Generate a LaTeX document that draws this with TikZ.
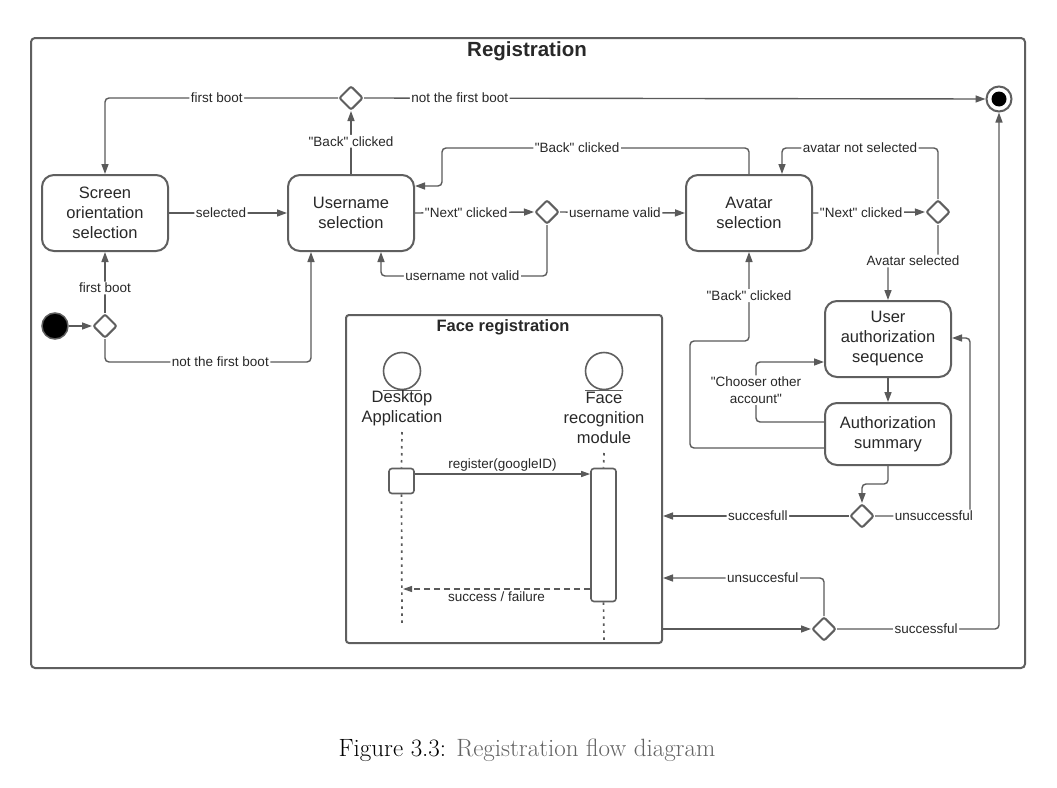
\documentclass[tikz,border=0pt]{standalone}
\usepackage{fontspec}
\newfontfamily\arialf{Liberation Sans}
\usetikzlibrary{arrows.meta,shapes.geometric}
\definecolor{ln}{RGB}{90,90,90}
\definecolor{bd}{RGB}{95,95,95}
\definecolor{tx}{RGB}{40,40,40}
\definecolor{capgray}{RGB}{100,100,100}
\begin{document}
\begin{tikzpicture}[x=1pt,y=-1pt,
 state/.style={draw=bd, line width=2pt, rounded corners=12pt, minimum width=126pt, minimum height=76pt, align=center, text=tx, font=\arialf\fontsize{16.5}{20}\selectfont, inner sep=2pt},
 dec/.style={diamond, draw=bd, line width=2pt, minimum width=24pt, minimum height=24pt, inner sep=0pt, rounded corners=2pt, fill=white},
 conn/.style={draw=ln, line width=1.4pt, rounded corners=4pt, -{Triangle[length=10pt,width=7pt]}},
 lbl/.style={fill=white, inner sep=1.5pt, text=tx, font=\arialf\fontsize{13.5}{16.5}\selectfont, align=center},
 msg/.style={draw=ln, line width=1.1pt, -{Triangle[length=9pt,width=6pt]}},
 life/.style={draw=ln, line width=1.7pt, dash pattern=on 2.5pt off 4.5pt},
 ent/.style={circle, draw=bd, line width=1.6pt, minimum size=37pt, inner sep=0pt},
 acttxt/.style={align=center, text=tx, font=\arialf\fontsize{16.5}{20}\selectfont},
 actbox/.style={draw=bd, line width=1.6pt, rounded corners=3pt, minimum width=25pt, inner sep=0pt}
]
\useasboundingbox (0,0) rectangle (1057,787);
\fill[white] (0,0) rectangle (1057,787);

% outer frame
\node[draw=bd, line width=2pt, rounded corners=4pt, minimum width=994pt, minimum height=630pt, anchor=north west, inner sep=0pt] (frame) at (30,37) {};
\node[font=\arialf\bfseries\fontsize{20.5}{24}\selectfont, text=tx] (ttl) at (527,51) {Registration};

% states
\node[state] (so) at (105,213) {Screen\\orientation\\selection};
\node[state] (us) at (351,213) {Username\\selection};
\node[state] (av) at (749,213) {Avatar\\selection};
\node[state] (ua) at (888,339) {User\\authorization\\sequence};
\node[state, minimum height=62pt] (as) at (888,434) {Authorization\\summary};

% decisions
\node[dec] (d0) at (105,326) {};
\node[dec] (d1) at (351,98) {};
\node[dec] (d2) at (547,212) {};
\node[dec] (d3) at (938,212) {};
\node[dec] (d4) at (862,516) {};
\node[dec] (d5) at (824,629) {};

% start / end
\node[circle, fill=black, draw=bd, line width=1.5pt, minimum size=26pt, inner sep=0pt] (st) at (55,326) {};
\node[circle, draw=bd, line width=2pt, minimum size=25pt, inner sep=0pt] (en) at (999,99) {};
\node[circle, fill=black, minimum size=15pt, inner sep=0pt] (en2) at (999,99) {};

% face registration frame
\node[draw=bd, line width=2pt, rounded corners=3pt, minimum width=316pt, minimum height=328pt, anchor=north west, inner sep=0pt] (fr) at (345,314) {};
\node[font=\arialf\bfseries\fontsize{16.5}{20}\selectfont, text=tx] (frt) at (503,327) {Face registration};

% lifelines
\node[ent] (dac) at (402,371) {};
\draw[draw=bd, line width=1.6pt] ([xshift=-19pt]dac.south) -- ([xshift=19pt]dac.south);
\node[acttxt] (dat) at (402,408) {Desktop\\Application};
\node[ent] (fac) at (604,371) {};
\draw[draw=bd, line width=1.6pt] ([xshift=-19pt]fac.south) -- ([xshift=19pt]fac.south);
\node[acttxt] (fat) at (604,418) {Face\\recognition\\module};

\node[actbox, minimum height=25pt] (act1) at (401.5,481) {};
\node[actbox, minimum height=133pt] (act2) at (603.5,535) {};
\coordinate (dl1) at (402,432);
\coordinate (dl2) at (402,623);
\coordinate (fl1) at (604,453);
\coordinate (fl2) at (604,641);
\draw[life] (dl1) -- (act1.north);
\draw[life] (act1.south) -- (dl2);
\draw[life] (fl1) -- (act2.north);
\draw[life] (act2.south) -- (fl2);

\draw[msg] (act1.east |- 0,474) -- node[above=1pt, lbl, fill=none] (m1) {register(googleID)} (act2.west |- 0,474);
\coordinate (ret) at (403,589);
\draw[msg, dash pattern=on 6pt off 4pt] (act2.west |- 0,589) -- node[below=1pt, lbl, fill=none] (m2) {success / failure} (ret);

% connectors
\draw[conn] (st) -- (d0);
\draw[conn] (d0.north) -- node[lbl, pos=0.41] (l1) {first boot} (so.south);
\draw[conn] (d0.south) -- (105,362) -- node[lbl, pos=0.56] (l2) {not the first boot} (311,362) -- (us.south -| 311,0);
\draw[conn] (so.east) -- node[lbl, pos=0.44] (l3) {selected} (us.west);
\draw[conn] (us.north) -- node[lbl, pos=0.52] (l4) {"Back" clicked} (d1.south);
\draw[conn] (d1.west) -| node[lbl, pos=0.26] (l5) {first boot} (so.north);
\draw[conn] (d1.east) -- node[lbl, pos=0.154] (l6) {not the first boot} (en.west);
\draw[conn] (us.east) -- node[lbl, pos=0.43] (l7) {"Next" clicked} (d2.west);
\draw[conn] (d2.east) -- node[lbl, pos=0.44] (l8) {username valid} (av.west);
\draw[conn] (d2.south) -- (547,276) -- node[lbl, pos=0.51] (l9) {username not valid} (381,276) -- (us.south -| 381,0);
\draw[conn] (av.north) -- (749,148) -- node[lbl, pos=0.56] (l10) {"Back" clicked} (442,148) -- (442,186) -- (us.east |- 0,186);
\draw[conn] (av.east) -- node[lbl, pos=0.43] (l11) {"Next" clicked} (d3.west);
\draw[conn] (d3.north) -- (938,148) -- node[lbl, pos=0.5] (l12) {avatar not selected} (782,148) -- (av.north -| 782,0);
\draw[conn] (d3.south) -- (938,261) -- node[lbl, pos=0.5] (l13) {Avatar selected} (888,261) -- (ua.north);
\draw[conn] (as.west |- 0,422) -- (756,422) -- node[lbl, pos=0.53] (l14) {"Chooser other\\account"} (756,362) -- (ua.west |- 0,362);
\draw[conn] (as.west |- 0,448) -- (690,448) -- (690,341) -- (749,341) -- node[lbl, pos=0.51] (l15) {"Back" clicked} (av.south);
\draw[conn] (ua.south) -- (as.north);
\draw[conn] (as.south) -- (888,484) -- (862,484) -- (d4.north);
\draw[conn] (d4.west) -- node[lbl, pos=0.49] (l16) {succesfull} (fr.east |- d4);
\draw[conn] (d4.east) -- node[lbl, pos=0.62] (l17) {unsuccessful} (970,516) -- (970,338) -- (ua.east |- 0,338);
\draw[conn] (fr.east |- d5) -- (d5.west);
\draw[conn] (d5.north) -- (824,578) -- node[lbl, pos=0.38] (l18) {unsuccesful} (fr.east |- 0,578);
\draw[conn] (d5.east) -- node[lbl, pos=0.55] (l19) {successful} (en.south |- d5) -- (en.south);

% caption
\node[font=\fontsize{25}{30}\selectfont] (cap) at (527,750) {Figure 3.3: \textcolor{capgray}{Registration flow diagram}};
\end{tikzpicture}
\end{document}
